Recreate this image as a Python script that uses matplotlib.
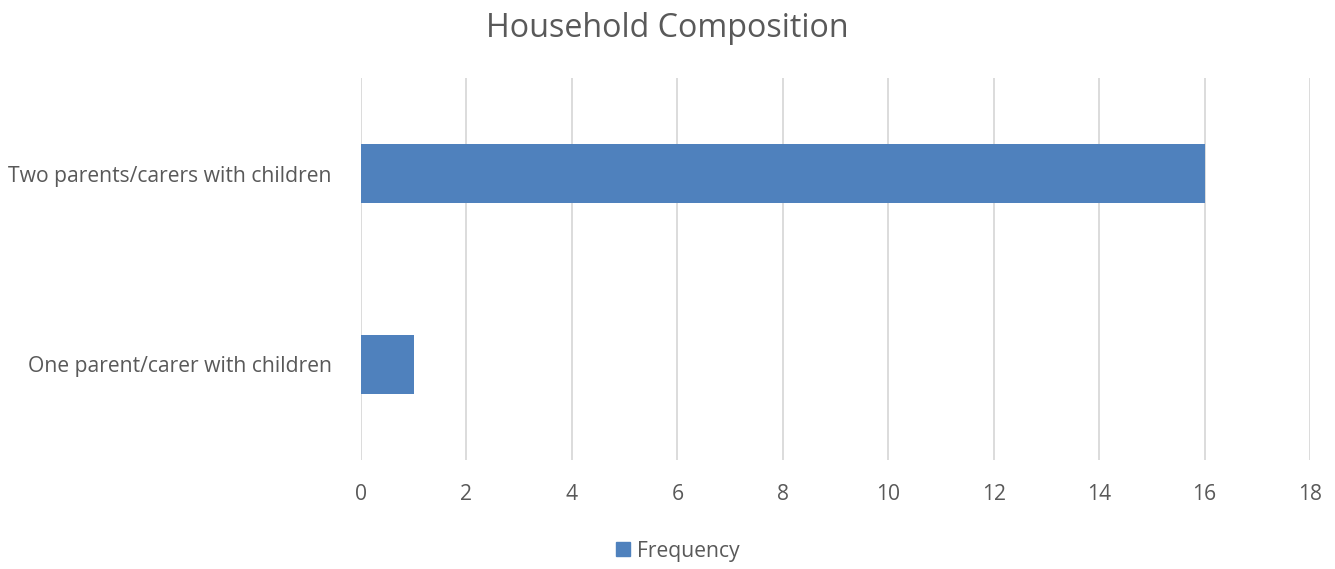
import matplotlib.pyplot as plt
from matplotlib.patches import Patch

# household composition counts
categories = ["One parent/carer with children", "Two parents/carers with children"]
frequency = [1, 16]
x_ticks = [0, 2, 4, 6, 8, 10, 12, 14, 16, 18]

bar_color = "#4F81BD"
text_color = "#595959"

plt.rcParams['font.family'] = ['Open Sans', 'DejaVu Sans']

fig = plt.figure(figsize=(13.35, 5.69), dpi=100)
ax = fig.add_axes([0.2704, 0.1916, 0.7109, 0.6713])

ax.barh(categories, frequency, height=0.31, color=bar_color, zorder=3)

ax.set_xlim(0, 18)
ax.set_ylim(-0.5, 1.5)
ax.set_xticks(x_ticks)
ax.xaxis.grid(True, color="#D9D9D9", linewidth=1.3, zorder=0)
ax.tick_params(axis='both', length=0, colors=text_color, labelsize=15.2)
ax.tick_params(axis='y', pad=21)
ax.tick_params(axis='x', pad=17)
for s in ax.spines.values():
    s.set_visible(False)

fig.suptitle("Household Composition", y=0.979, fontsize=23.2, color=text_color)

handles = [Patch(color=bar_color, label="Frequency")]
fig.legend(handles=handles, loc='center', bbox_to_anchor=(0.508, 0.031), frameon=False,
           fontsize=15.2, labelcolor=text_color, handlelength=0.65, handleheight=0.65,
           handletextpad=0.35)

plt.savefig('out.png', dpi=100)
